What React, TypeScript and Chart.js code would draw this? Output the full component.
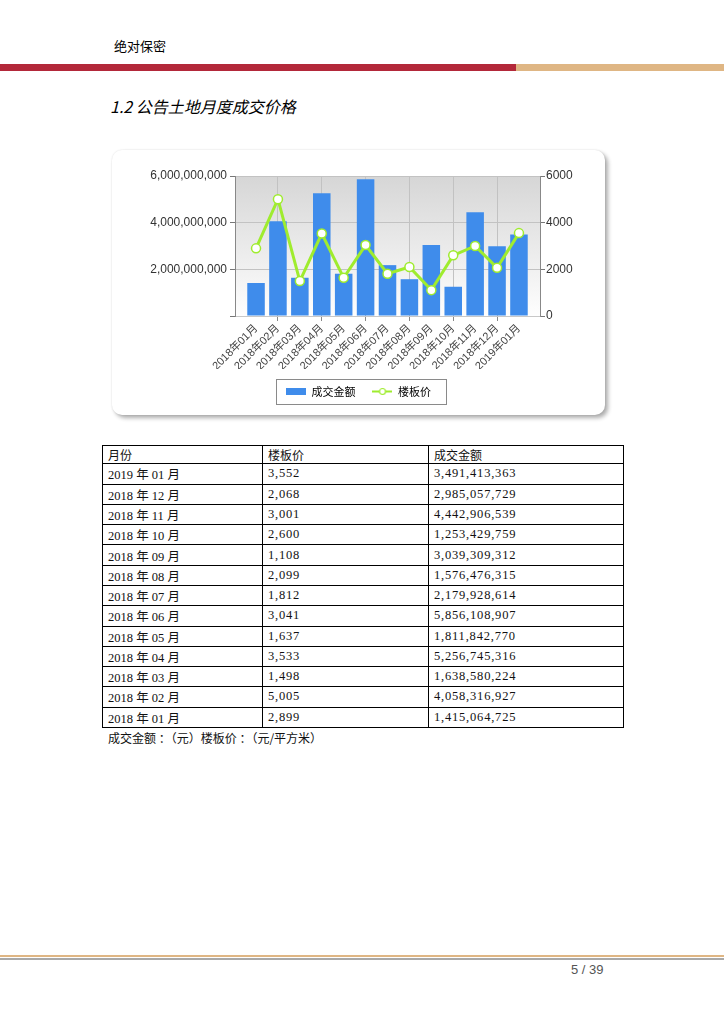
import React, { useEffect, useRef } from 'react';
import { Chart, registerables } from 'chart.js';

Chart.register(...registerables);

// ---- data ----
const months = [
  '2018年01月', '2018年02月', '2018年03月', '2018年04月', '2018年05月', '2018年06月',
  '2018年07月', '2018年08月', '2018年09月', '2018年10月', '2018年11月', '2018年12月', '2019年01月',
];
const floorPrice = [2899, 5005, 1498, 3533, 1637, 3041, 1812, 2099, 1108, 2600, 3001, 2068, 3552];
const dealAmount = [
  1415064725, 4058316927, 1638580224, 5256745316, 1811842770, 5856108907,
  2179928614, 1576476315, 3039309312, 1253429759, 4442906539, 2985057729, 3491413363,
];
const seriesNames = ['成交金额', '楼板价'];
const leftAxisMax = 6000000000;
const leftAxisStep = 2000000000;
const rightAxisMax = 6000;
const rightAxisStep = 2000;
const tableHeaders = ['月份', '楼板价', '成交金额'];

const BAR_COLOR = '#3f8ceb';
const LINE_COLOR = '#9fec2e';
const CJK = '"Noto Sans CJK SC", sans-serif';

const fmt = (n: number) => n.toLocaleString('en-US');
const tableMonth = (m: string) => m.replace('年', ' 年 ').replace('月', ' 月');

function ChartBox() {
  const ref = useRef<HTMLCanvasElement | null>(null);
  useEffect(() => {
    const canvas = ref.current;
    if (!canvas) return;

    const barIcon = document.createElement('canvas');
    barIcon.width = 20; barIcon.height = 7;
    const bctx = barIcon.getContext('2d')!;
    bctx.fillStyle = BAR_COLOR; bctx.fillRect(0, 0, 20, 7);

    const lineIcon = document.createElement('canvas');
    lineIcon.width = 20; lineIcon.height = 9;
    const lctx = lineIcon.getContext('2d')!;
    lctx.strokeStyle = LINE_COLOR; lctx.lineWidth = 2;
    lctx.beginPath(); lctx.moveTo(0, 4.5); lctx.lineTo(20, 4.5); lctx.stroke();
    lctx.beginPath(); lctx.arc(10, 4.5, 3, 0, Math.PI * 2);
    lctx.fillStyle = '#ffffff'; lctx.fill(); lctx.lineWidth = 1.2; lctx.stroke();

    const plotBg = {
      id: 'plotBg',
      beforeDraw(chart: any) {
        const { ctx, chartArea } = chart;
        if (!chartArea) return;
        const { left, top, right, bottom } = chartArea;
        const g = ctx.createLinearGradient(0, top, 0, bottom);
        g.addColorStop(0, '#d6d6d6');
        g.addColorStop(1, '#fefefe');
        ctx.save();
        ctx.fillStyle = g;
        ctx.fillRect(left, top, right - left, bottom - top);
        ctx.restore();
      },
    };

    const legendFrame = {
      id: 'legendFrame',
      afterDraw(chart: any) {
        const hb = chart.legend && chart.legend.legendHitBoxes;
        if (!hb || !hb.length) return;
        const first = hb[0];
        const last = hb[hb.length - 1];
        const cy = first.top + first.height / 2;
        const x0 = Math.round(first.left - 10) + 0.5;
        const x1 = Math.round(last.left + last.width + 15) + 0.5;
        const y0 = Math.round(cy - 12.5) + 0.5;
        const ctx = chart.ctx;
        ctx.save();
        ctx.strokeStyle = '#8a8a8a';
        ctx.lineWidth = 1;
        ctx.strokeRect(x0, y0, x1 - x0, 25);
        ctx.restore();
      },
    };

    Chart.defaults.font.family = '"Liberation Sans", "Noto Sans CJK SC", sans-serif';

    const chart = new Chart(canvas, {
      type: 'bar',
      data: {
        datasets: [
          {
            type: 'bar',
            label: seriesNames[0],
            data: dealAmount.map((v, i) => ({ x: i, y: v })),
            backgroundColor: BAR_COLOR,
            yAxisID: 'y',
            barPercentage: 0.8,
            categoryPercentage: 1,
            order: 2,
          } as any,
          {
            type: 'line',
            label: seriesNames[1],
            data: floorPrice.map((v, i) => ({ x: i, y: v })),
            borderColor: LINE_COLOR,
            borderWidth: 3,
            pointRadius: 4.5,
            pointBackgroundColor: '#ffffff',
            pointBorderColor: LINE_COLOR,
            pointBorderWidth: 1.5,
            tension: 0,
            yAxisID: 'y1',
            order: 1,
          } as any,
        ],
      },
      options: {
        animation: false,
        responsive: true,
        maintainAspectRatio: false,
        layout: { padding: { top: 26, bottom: 8, left: 0, right: 0 } },
        plugins: {
          tooltip: { enabled: false },
          legend: {
            position: 'bottom',
            onClick: () => {},
            labels: {
              usePointStyle: true,
              pointStyleWidth: 20,
              padding: 17,
              color: '#222',
              font: { size: 11, family: CJK },
              generateLabels: () => [
                { text: seriesNames[0], pointStyle: barIcon as any, datasetIndex: 0, hidden: false, fillStyle: BAR_COLOR, strokeStyle: BAR_COLOR, lineWidth: 0 },
                { text: seriesNames[1], pointStyle: lineIcon as any, datasetIndex: 1, hidden: false, fillStyle: '#fff', strokeStyle: LINE_COLOR, lineWidth: 0 },
              ] as any,
            },
          },
        },
        scales: {
          x: {
            type: 'linear',
            min: -0.96,
            max: months.length - 1 + 0.96,
            offset: false,
            grid: {
              offset: false,
              color: (c: any) => (c.tick && c.tick.value % 2 === 1 ? '#c2c2c2' : 'rgba(0,0,0,0)'),
              tickColor: (c: any) => (c.tick && c.tick.value % 2 === 1 ? '#888' : 'rgba(0,0,0,0)'),
              tickLength: 5,
            },
            border: { color: '#c8c8c8' },
            ticks: {
              stepSize: 1,
              includeBounds: false,
              autoSkip: false,
              maxRotation: 45,
              minRotation: 45,
              padding: 1,
              color: '#444',
              font: { size: 11 },
              callback: (v: any) => months[v] ?? '',
            },
            afterFit: (s: any) => { s.height = 53; },
          } as any,
          y: {
            type: 'linear',
            position: 'left',
            min: 0,
            max: leftAxisMax,
            grid: { color: '#c2c2c2', tickColor: '#777', tickLength: 5 },
            border: { color: '#888' },
            ticks: {
              stepSize: leftAxisStep,
              padding: 3,
              color: '#333',
              font: { size: 12 },
              callback: (v: any) => (v === 0 ? '' : fmt(Number(v))),
            },
            afterFit: (s: any) => { s.width = 123; },
          } as any,
          y1: {
            type: 'linear',
            position: 'right',
            min: 0,
            max: rightAxisMax,
            grid: { drawOnChartArea: false, tickColor: '#777', tickLength: 5 },
            border: { color: '#888' },
            ticks: {
              stepSize: rightAxisStep,
              padding: 1,
              color: '#333',
              font: { size: 12 },
              callback: (v: any) => String(v),
            },
            afterFit: (s: any) => { s.width = 65; },
          } as any,
        },
      },
      plugins: [plotBg, legendFrame],
    } as any);
    return () => chart.destroy();
  }, []);

  return (
    <div
      style={{
        position: 'absolute', left: 112, top: 150, width: 493, height: 265,
        background: '#fff', borderRadius: 10,
        boxShadow: '3px 3px 4px rgba(0,0,0,0.32), 0 0 2px rgba(0,0,0,0.12)',
      }}
    >
      <canvas ref={ref} />
    </div>
  );
}

export default function App() {
  const rows = months.map((m, i) => ({ m, p: floorPrice[i], a: dealAmount[i] })).reverse();
  const cell: React.CSSProperties = {
    border: '1px solid #000', padding: '0 0 0 5px', textAlign: 'left', verticalAlign: 'middle',
  };
  const numCell: React.CSSProperties = { ...cell, letterSpacing: 0.8 };
  const numFont = '"Liberation Serif", "Noto Sans CJK SC", serif';
  return (
    <div style={{ position: 'relative', width: 724, height: 1024, background: '#fff', overflow: 'hidden' }}>
      <style>{'body{margin:0}'}</style>
      <div style={{ position: 'absolute', left: 114, top: 37, fontSize: 13, lineHeight: '18px', fontFamily: CJK, color: '#000' }}>绝对保密</div>
      <div style={{ position: 'absolute', left: 0, top: 64, width: 516, height: 7, background: '#b3283a' }} />
      <div style={{ position: 'absolute', left: 516, top: 64, width: 208, height: 7, background: '#dfb684' }} />
      <div style={{ position: 'absolute', left: 110, top: 95, fontSize: 16, lineHeight: '22px', fontStyle: 'italic', fontWeight: 400, fontFamily: CJK, color: '#000' }}>
        1.2 公告土地月度成交价格
      </div>
      <ChartBox />
      <table
        style={{
          position: 'absolute', left: 102, top: 445, width: 521, height: 283,
          borderCollapse: 'collapse', tableLayout: 'fixed',
          fontFamily: numFont, fontSize: 12.5, color: '#111',
        }}
      >
        <colgroup>
          <col style={{ width: 160 }} />
          <col style={{ width: 166 }} />
          <col style={{ width: 195 }} />
        </colgroup>
        <tbody>
          <tr>
            {tableHeaders.map((h) => (
              <td key={h} style={{ ...cell, fontFamily: CJK, fontSize: 12 }}>{h}</td>
            ))}
          </tr>
          {rows.map((r) => (
            <tr key={r.m}>
              <td style={cell}>{tableMonth(r.m)}</td>
              <td style={numCell}>{fmt(r.p)}</td>
              <td style={numCell}>{fmt(r.a)}</td>
            </tr>
          ))}
        </tbody>
      </table>
      <div style={{ position: 'absolute', left: 108, top: 729, fontSize: 12, lineHeight: '18px', fontFamily: CJK, color: '#111' }}>
        成交金额 ：（元）楼板价 ：（元/平方米）
      </div>
      <div style={{ position: 'absolute', left: 0, top: 955, width: 724, height: 2, background: '#dfb684' }} />
      <div style={{ position: 'absolute', left: 0, top: 958, width: 724, height: 2, background: '#a9a9a9' }} />
      <div style={{ position: 'absolute', left: 571, top: 962, fontSize: 13, lineHeight: '16px', fontFamily: '"Liberation Sans", sans-serif', color: '#555' }}>
        5 / 39
      </div>
    </div>
  );
}
